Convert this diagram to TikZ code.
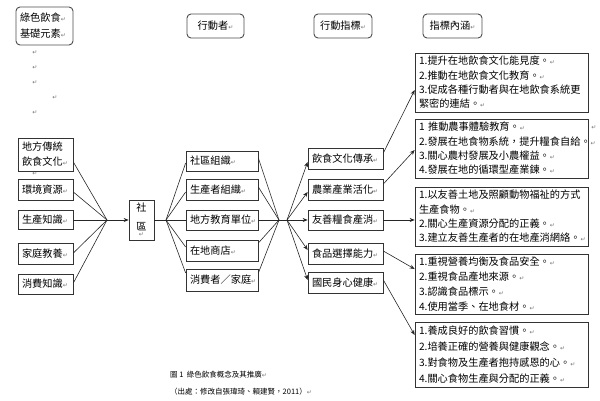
\documentclass[tikz,border=0pt]{standalone}
\usepackage{fontspec}
\setmainfont{Noto Sans CJK TC}
\newfontfamily\symf{DejaVu Sans}
\usetikzlibrary{arrows.meta,calc}
\newcommand\rt{{\symf\fontsize{6}{6}\selectfont\color{black!55}↵}}
\tikzset{
  tb/.style={draw=black!80, line width=0.7pt, inner xsep=4pt, inner ysep=0pt, align=left,
             font=\fontsize{10.2}{14.3}\selectfont},
  hdr/.style={tb, rounded corners=4pt, line width=0.9pt, draw=black!70},
  ln/.style={draw=black!85, line width=0.6pt},
  arr/.style={ln, -{Stealth[length=5pt,width=4pt]}},
  stray/.style={inner sep=0pt},
  captxt/.style={inner sep=0pt, anchor=west, font=\fontsize{7.5}{9}\selectfont}
}
\begin{document}
\begin{tikzpicture}[x=1pt,y=-1pt]
\useasboundingbox (0,0) rectangle (600,400);
% headers
\node[hdr, minimum width=57pt, minimum height=38pt, text width=49pt, font=\fontsize{10.2}{16}\selectfont] (h0) at (44.5,26) {綠色飲食\rt\\基礎元素\rt};
\node[hdr, minimum width=57pt, minimum height=24pt, text width=49pt, align=center] (h1) at (215.5,26) {行動者\rt};
\node[hdr, minimum width=58pt, minimum height=24pt, text width=50pt, align=center] (h2) at (343,26) {行動指標\rt};
\node[hdr, minimum width=59pt, minimum height=24pt, text width=51pt, align=center] (h3) at (452.5,26) {指標內涵\rt};
% stray paragraph marks
\node[stray] (s1) at (35,53) {\rt};
\node[stray] (s2) at (35,68) {\rt};
\node[stray] (s3) at (35,83) {\rt};
\node[stray] (s4) at (55,98) {\rt};
\node[stray] (s5) at (35,113) {\rt};
\node[stray] (s6) at (35,174) {\rt};
\node[stray] (s7) at (594,128) {\rt};
% left column
\node[tb, minimum width=55pt, minimum height=33pt, text width=47pt, font=\fontsize{10.2}{15}\selectfont] (L1) at (45.5,154.5) {地方傳統\\飲食文化\rt};
\node[tb, minimum width=55pt, minimum height=21pt, text width=47pt] (L2) at (45.5,189.5) {環境資源\rt};
\node[tb, minimum width=55pt, minimum height=19pt, text width=47pt] (L3) at (45.5,220) {生產知識\rt};
\node[tb, minimum width=55pt, minimum height=21pt, text width=47pt] (L4) at (45.5,253.5) {家庭教養\rt};
\node[tb, minimum width=55pt, minimum height=20pt, text width=47pt] (L5) at (45.5,284) {消費知識\rt};
% community
\node[tb, minimum width=25pt, minimum height=40pt, text width=17pt, align=center, font=\fontsize{10.2}{19}\selectfont] (sq) at (141.5,220) {社\\區\\[-13pt]\rt};
% actors
\node[tb, minimum width=72pt, minimum height=20pt, text width=64pt] (A1) at (222,161) {社區組織\rt};
\node[tb, minimum width=72pt, minimum height=21pt, text width=64pt] (A2) at (222,189.5) {生產者組織\rt};
\node[tb, minimum width=72pt, minimum height=20pt, text width=64pt] (A3) at (222,220) {地方教育單位\rt};
\node[tb, minimum width=72pt, minimum height=21pt, text width=64pt] (A4) at (222,250.5) {在地商店\rt};
\node[tb, minimum width=72pt, minimum height=22pt, text width=64pt] (A5) at (222,280) {消費者／家庭\rt};
% indicators
\node[tb, minimum width=75pt, minimum height=21pt, text width=67pt] (I1) at (345.5,158.5) {飲食文化傳承\rt};
\node[tb, minimum width=75pt, minimum height=21pt, text width=67pt] (I2) at (345.5,189.5) {農業產業活化\rt};
\node[tb, minimum width=75pt, minimum height=20pt, text width=67pt] (I3) at (345.5,220) {友善糧食產消\rt};
\node[tb, minimum width=75pt, minimum height=21pt, text width=67pt] (I4) at (345.5,253.5) {食品選擇能力\rt};
\node[tb, minimum width=75pt, minimum height=21pt, text width=67pt] (I5) at (345.5,282.5) {國民身心健康\rt};
% contents
\node[tb, minimum width=173pt, minimum height=59pt, text width=165pt] (C1) at (501.5,82.5)
  {1.提升在地飲食文化能見度。\rt\\2.推動在地飲食文化教育。\rt\\3.促成各種行動者與在地飲食系統更\\緊密的連結。\rt};
\node[tb, minimum width=173pt, minimum height=59pt, text width=165pt] (C2) at (501.5,148.5)
  {1 推動農事體驗教育。\rt\\2.發展在地食物系統，提升糧食自給。\rt\\3.關心農村發展及小農權益。\rt\\4.發展在地的循環型產業鍊。\rt};
\node[tb, minimum width=173pt, minimum height=59pt, text width=165pt] (C3) at (501.5,216.5)
  {1.以友善土地及照顧動物福祉的方式\\生產食物。\rt\\2.關心生產資源分配的正義。\rt\\3.建立友善生產者的在地產消網絡。\rt};
\node[tb, minimum width=173pt, minimum height=60pt, text width=165pt, font=\fontsize{10.2}{15}\selectfont] (C4) at (501.5,284)
  {1.重視營養均衡及食品安全。\rt\\2.重視食品產地來源。\rt\\3.認識食品標示。\rt\\4.使用當季、在地食材。\rt};
\node[tb, minimum width=173pt, minimum height=65pt, text width=165pt, font=\fontsize{10.2}{16}\selectfont] (C5) at (501.5,354.5)
  {1.養成良好的飲食習慣。\rt\\2.培養正確的營養與健康觀念。\rt\\3.對食物及生產者抱持感恩的心。\rt\\4.關心食物生產與分配的正義。\rt};
% junctions
\coordinate (jL) at (107,220);
\coordinate (jA) at (166,220);
\coordinate (jR) at (279,220);
\coordinate (jR2) at (287,220);
% left fan
\draw[ln] ([yshift=-7.5pt]L1.east) -- (jL);
\draw[ln] ([yshift=-2.5pt]L2.east) -- (jL);
\draw[ln] (L3.east) -- (jL);
\draw[ln] ([yshift=0.5pt]L4.east) -- (jL);
\draw[ln] ([yshift=1pt]L5.east) -- (jL);
\draw[arr] (jL) -- (sq.west);
\draw[ln] (sq.east) -- (jA);
% actor fan
\draw[ln] (jA) -- ([yshift=-2pt]A1.west);
\draw[ln] (jA) -- ([yshift=-2.5pt]A2.west);
\draw[ln] (jA) -- (A3.west);
\draw[ln] (jA) -- ([yshift=3.5pt]A4.west);
\draw[ln] (jA) -- ([yshift=7pt]A5.west);
\draw[ln] ([yshift=3pt]A1.east) -- (jR);
\draw[ln] ([yshift=2.5pt]A2.east) -- (jR);
\draw[ln] (A3.east) -- (jR);
\draw[ln] ([yshift=7.5pt]A4.east) -- (jR);
\draw[ln] ([yshift=7pt]A5.east) -- (jR);
\draw[ln] (jR) -- (jR2);
% indicator arrows
\draw[arr] (jR2) -- ([yshift=-3.5pt]I1.west);
\draw[arr] (jR2) -- ([yshift=-2.5pt]I2.west);
\draw[arr] (jR2) -- (I3.west);
\draw[arr] (jR2) -- ([yshift=3.5pt]I4.west);
\draw[arr] (jR2) -- ([yshift=2.5pt]I5.west);
% content arrows
\draw[arr] ([yshift=5.5pt]I1.east) -- ([yshift=-7.5pt]C1.west);
\draw[arr] ([yshift=5.5pt]I2.east) -- ([yshift=-1.5pt]C2.west);
\draw[arr] (I3.east) -- (I3.east -| C3.west);
\draw[arr] ([yshift=2.5pt]I4.east) -- ([yshift=15pt]C4.west);
\draw[arr] ([yshift=2.5pt]I5.east) -- ([yshift=19.5pt]C5.west);
% caption
\node[captxt] (cap1) at (170,375) {圖 1\ \ 綠色飲食概念及其推廣\rt};
\node[captxt] (cap2) at (170,392) {（出處：修改自張瑋琦、賴建賢，2011）\rt};
\end{tikzpicture}
\end{document}
